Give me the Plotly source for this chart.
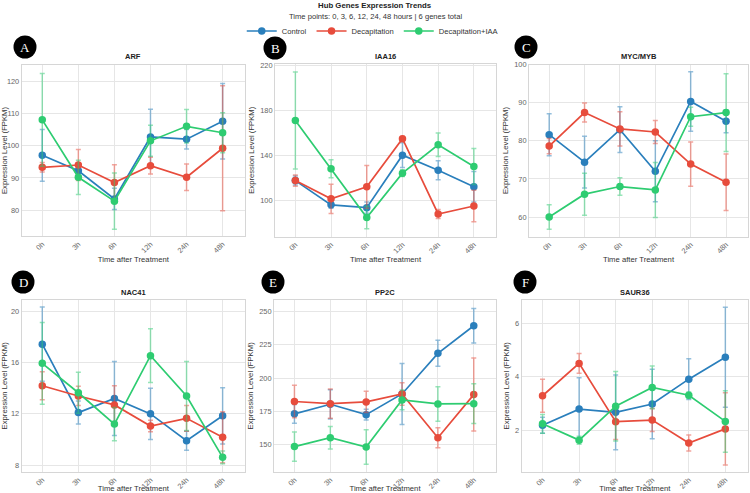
import plotly.graph_objects as go

W, H = 750, 493

times = ["0h", "3h", "6h", "12h", "24h", "48h"]
series_names = ["Control", "Decapitation", "Decapitation+IAA"]
series_colors = ["#2a7fbc", "#e74c3c", "#2ecc71"]
series_err_colors = ["rgba(42,127,188,0.5)", "rgba(231,76,60,0.5)", "rgba(46,204,113,0.5)"]
genes = ["ARF", "IAA16", "MYC/MYB", "NAC41", "PP2C", "SAUR36"]
panel_letters = ["A", "B", "C", "D", "E", "F"]

# ARF
arf_control = [97.0, 92.2, 83.5, 102.7, 102.0, 107.6]
arf_control_err = [8.0, 2.5, 3.3, 8.6, 3.0, 11.7]
arf_decap = [93.3, 94.0, 88.6, 93.8, 90.2, 99.2]
arf_decap_err = [1.5, 4.8, 5.5, 2.6, 4.1, 19.4]
arf_iaa = [108.0, 90.2, 82.8, 101.5, 106.0, 104.0]
arf_iaa_err = [14.4, 5.3, 8.7, 4.8, 5.2, 6.2]

# IAA16
iaa16_control = [118.0, 96.5, 94.0, 140.6, 127.2, 112.5]
iaa16_control_err = [4.0, 3.0, 5.0, 11.0, 8.5, 13.5]
iaa16_decap = [118.0, 101.8, 112.5, 155.2, 88.4, 95.5]
iaa16_decap_err = [5.0, 13.0, 19.0, 2.0, 4.0, 14.0]
iaa16_iaa = [171.3, 128.5, 85.2, 124.6, 149.8, 130.5]
iaa16_iaa_err = [43.0, 8.0, 10.0, 3.0, 10.5, 16.0]

# MYC/MYB
myc_control = [81.6, 74.4, 82.9, 72.0, 90.3, 85.1]
myc_control_err = [5.5, 6.8, 6.0, 8.0, 7.8, 3.0]
myc_decap = [78.6, 87.4, 83.1, 82.3, 73.9, 69.1]
myc_decap_err = [2.0, 2.5, 4.5, 3.0, 5.8, 7.4]
myc_iaa = [60.0, 66.0, 68.0, 67.1, 86.3, 87.4]
myc_iaa_err = [3.2, 5.5, 2.3, 7.2, 2.5, 10.2]

# NAC41
nac_control = [17.45, 12.1, 13.2, 12.0, 9.9, 11.85]
nac_control_err = [2.9, 0.9, 2.9, 2.0, 0.75, 2.2]
nac_decap = [14.2, 13.4, 12.7, 11.05, 11.65, 10.17]
nac_decap_err = [1.1, 0.75, 1.5, 0.45, 1.0, 2.0]
nac_iaa = [15.95, 13.65, 11.2, 16.55, 13.4, 8.6]
nac_iaa_err = [3.2, 1.6, 1.3, 2.1, 2.7, 0.5]

# PP2C
pp2c_control = [173.0, 180.2, 172.4, 188.0, 218.6, 239.4]
pp2c_control_err = [7.0, 11.0, 4.0, 23.0, 9.8, 13.0]
pp2c_decap = [182.3, 180.7, 182.0, 188.0, 155.0, 187.5]
pp2c_decap_err = [12.2, 11.0, 8.0, 8.5, 7.5, 27.5]
pp2c_iaa = [148.3, 155.0, 148.0, 183.5, 180.5, 180.7]
pp2c_iaa_err = [11.0, 8.5, 13.0, 7.5, 13.0, 15.0]

# SAUR36
saur_control = [2.19, 2.79, 2.67, 2.98, 3.91, 4.73]
saur_control_err = [0.3, 1.17, 1.4, 1.3, 0.76, 1.87]
saur_decap = [3.29, 4.5, 2.32, 2.38, 1.52, 2.05]
saur_decap_err = [0.62, 0.37, 0.67, 0.43, 0.3, 1.35]
saur_iaa = [2.24, 1.63, 2.9, 3.6, 3.31, 2.33]
saur_iaa_err = [0.35, 0.15, 1.3, 0.8, 0.12, 1.15]

y_ranges = [[72, 125], [68.4, 221.5], [54.9, 100], [7.48, 20.9], [129.4, 258.8], [0.45, 6.87]]
y_ticks = [[80, 90, 100, 110, 120], [100, 140, 180, 220], [60, 70, 80, 90, 100],
           [8, 12, 16, 20], [150, 175, 200, 225, 250], [2, 4, 6]]

gene_data = [
    [(arf_control, arf_control_err), (arf_decap, arf_decap_err), (arf_iaa, arf_iaa_err)],
    [(iaa16_control, iaa16_control_err), (iaa16_decap, iaa16_decap_err), (iaa16_iaa, iaa16_iaa_err)],
    [(myc_control, myc_control_err), (myc_decap, myc_decap_err), (myc_iaa, myc_iaa_err)],
    [(nac_control, nac_control_err), (nac_decap, nac_decap_err), (nac_iaa, nac_iaa_err)],
    [(pp2c_control, pp2c_control_err), (pp2c_decap, pp2c_decap_err), (pp2c_iaa, pp2c_iaa_err)],
    [(saur_control, saur_control_err), (saur_decap, saur_decap_err), (saur_iaa, saur_iaa_err)],
]

# panel boxes in pixels: (left, right, top, bottom)
boxes = [
    (21.7, 245, 65, 236), (275, 496, 64, 236.5), (529, 748, 64.5, 236.5),
    (21.7, 245, 300, 471.7), (274, 496, 300, 471.7), (521.7, 748, 300, 471.7),
]
badge_centers = [(25, 47), (275, 48), (526, 47), (23, 282), (273, 282), (525, 282)]

FONT = "Liberation Sans, Arial, sans-serif"


def px(x):
    return x / W


def py(y):
    return 1 - y / H


fig = go.Figure()
layout = dict(
    width=W, height=H,
    margin=dict(l=0, r=0, t=0, b=0),
    paper_bgcolor="white", plot_bgcolor="white",
    font=dict(family=FONT, size=7.5, color="#333"),
    showlegend=True,
    legend=dict(orientation="h", x=0.497, xanchor="center", y=py(31), yanchor="middle",
                font=dict(size=7.6, color="#333"), bgcolor="rgba(0,0,0,0)",
                itemwidth=30, tracegroupgap=0),
)
annotations = []
shapes = []

for i, gene in enumerate(genes):
    n = i + 1
    xa = "x" if n == 1 else f"x{n}"
    ya = "y" if n == 1 else f"y{n}"
    for s, (vals, errs) in enumerate(gene_data[i]):
        fig.add_trace(go.Scatter(
            x=times, y=vals, mode="lines+markers",
            name=series_names[s], legendgroup=series_names[s], showlegend=(i == 0),
            line=dict(color=series_colors[s], width=1.7),
            marker=dict(color=series_colors[s], size=7.5),
            error_y=dict(type="data", array=errs, visible=True,
                         color=series_err_colors[s], thickness=1.5, width=2.5),
            xaxis=xa, yaxis=ya,
        ))
    l, r, t, b = boxes[i]
    axis_common = dict(showgrid=True, gridcolor="#e6e6e6", gridwidth=1,
                       showline=True, linecolor="#d6d6d6", linewidth=1, mirror=True,
                       zeroline=False, ticks="", automargin=False,
                       tickfont=dict(size=7.4, color="#666", family=FONT))
    layout["xaxis" if n == 1 else f"xaxis{n}"] = dict(
        axis_common, domain=[px(l), px(r)], anchor=ya,
        type="category", categoryorder="array", categoryarray=times,
        range=[-0.57, 5.62], tickangle=-45,
        title=dict(text="Time after Treatment", font=dict(size=7.7, color="#333"), standoff=1),
    )
    layout["yaxis" if n == 1 else f"yaxis{n}"] = dict(
        axis_common, domain=[py(b), py(t)], anchor=xa,
        range=y_ranges[i], tickvals=y_ticks[i],
        title=dict(text="Expression Level (FPKM)", font=dict(size=7.7, color="#333"), standoff=4),
    )
    # subplot title
    annotations.append(dict(text=f"<b>{gene}</b>", x=px((l + r) / 2), y=py(t - 8),
                            xref="paper", yref="paper", showarrow=False,
                            font=dict(size=7.5, color="#222", family=FONT),
                            xanchor="center", yanchor="middle"))
    # badge
    cx, cy = badge_centers[i]
    rad = 11.5
    shapes.append(dict(type="circle", xref="paper", yref="paper",
                       x0=px(cx - rad), x1=px(cx + rad), y0=py(cy + rad), y1=py(cy - rad),
                       fillcolor="black", line=dict(color="black", width=0)))
    annotations.append(dict(text=panel_letters[i], x=px(cx), y=py(cy),
                            xref="paper", yref="paper", showarrow=False,
                            font=dict(size=13, color="white", family="Liberation Serif, DejaVu Serif, serif"),
                            xanchor="center", yanchor="middle"))

annotations.append(dict(text="<b>Hub Genes Expression Trends</b>", x=0.5, y=py(5),
                        xref="paper", yref="paper", showarrow=False,
                        font=dict(size=7.8, color="#222", family=FONT),
                        xanchor="center", yanchor="middle"))
annotations.append(dict(text="Time points: 0, 3, 6, 12, 24, 48 hours | 6 genes total", x=0.5, y=py(16),
                        xref="paper", yref="paper", showarrow=False,
                        font=dict(size=7.6, color="#333", family=FONT),
                        xanchor="center", yanchor="middle"))

layout["annotations"] = annotations
layout["shapes"] = shapes
fig.update_layout(**layout)
fig.write_html("out.html")
